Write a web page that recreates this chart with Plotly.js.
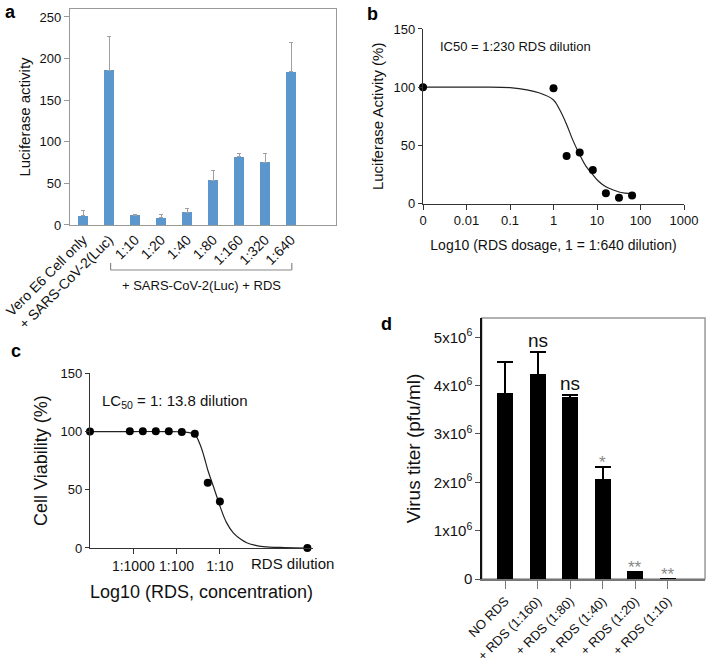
<!DOCTYPE html>
<html>
<head>
<meta charset="utf-8">
<script src="https://cdn.plot.ly/plotly-3.0.1.min.js"></script>
<style>html,body{margin:0;padding:0;background:#fff;}#chart{width:708px;height:660px;}</style>
</head>
<body>
<div id="chart"></div>
<script>
// ---------- Panel a ----------
const catsA = ['Vero E6 Cell only', '+ SARS-CoV-2(Luc)', '1:10', '1:20', '1:40', '1:80', '1:160', '1:320', '1:640'];
const lucA = [11, 186, 12, 9, 15.5, 54, 82, 75.5, 184];
const errA = [6, 40, 0.5, 4, 4, 12, 4, 10, 35];
const yTicksA = [0, 50, 100, 150, 200, 250];

// ---------- Panel b ----------
const doseB = [0.001, 1, 2, 4, 8, 16, 32, 64];
const actB = [100, 99, 41, 44, 29, 9, 5, 7];
const fitDoseB = [0.001, 0.01, 0.1, 0.48, 1, 1.37, 2, 2.75, 4, 5.6, 8, 11, 16, 23, 32, 45, 64];
const fitActB = [100, 100, 99.6, 95, 89, 81, 68, 55, 42, 32, 25, 19, 14.5, 12, 10, 9, 8.4];
const xTickValsB = [0.001, 0.01, 0.1, 1, 10, 100, 1000];
const xTickTextB = ['0', '0.01', '0.1', '1', '10', '100', '1000'];
const yTicksB = [0, 50, 100, 150];

// ---------- Panel c ----------
const logConcC = [-4, -3.08, -2.78, -2.48, -2.18, -1.88, -1.58, -1.28, -1.0, 1.02];
const viabC = [100, 100.3, 100.3, 100.3, 100.2, 99.5, 98, 56, 40, 0];
const fitLogC = [-4, -3, -2.2, -1.9, -1.75, -1.58, -1.46, -1.37, -1.28, -1.17, -1.07, -1.0, -0.85, -0.69, -0.5, -0.38, -0.2, 0, 0.5, 1.02];
const fitViabC = [100, 100, 100, 99.8, 99.3, 97.5, 89, 79, 67, 55, 44, 36, 22, 13, 7, 4.5, 2.5, 1.2, 0.4, 0];
const xTickValsC = [-3, -2, -1];
const xTickTextC = ['1:1000', '1:100', '1:10'];
const yTicksC = [0, 50, 100, 150];

// ---------- Panel d ----------
const catsD = ['NO RDS', '+ RDS (1:160)', '+ RDS (1:80)', '+ RDS (1:40)', '+ RDS (1:20)', '+ RDS (1:10)'];
const titerD = [3.83e6, 4.22e6, 3.75e6, 2.05e6, 0.145e6, 0];
const errD = [0.65e6, 0.47e6, 0.06e6, 0.26e6, 0, 0];
const sigD = ['', 'ns', 'ns', '*', '**', '**'];
const yTickValsD = [0, 1e6, 2e6, 3e6, 4e6, 5e6];
const yTickTextD = ['0', '1x10<sup>6</sup>', '2x10<sup>6</sup>', '3x10<sup>6</sup>', '4x10<sup>6</sup>', '5x10<sup>6</sup>'];

const FONT = 'Liberation Sans, Arial, Helvetica, sans-serif';
const zeros = n => new Array(n).fill(0);

const traces = [
  {
    type: 'bar', x: catsA, y: lucA, xaxis: 'x', yaxis: 'y', width: 0.35,
    marker: {color: '#5b96cc'},
    error_y: {type: 'data', array: errA, arrayminus: zeros(errA.length), symmetric: false,
              color: '#a0a0a0', thickness: 1, width: 2}
  },
  {
    type: 'scatter', mode: 'lines', x: fitDoseB, y: fitActB, xaxis: 'x2', yaxis: 'y2',
    line: {color: '#222', width: 1.2, shape: 'spline'}, hoverinfo: 'skip'
  },
  {
    type: 'scatter', mode: 'markers', x: doseB, y: actB, xaxis: 'x2', yaxis: 'y2',
    marker: {color: '#000', size: 8}, cliponaxis: false
  },
  {
    type: 'scatter', mode: 'lines', x: fitLogC, y: fitViabC, xaxis: 'x3', yaxis: 'y3',
    line: {color: '#222', width: 1.2, shape: 'spline'}, hoverinfo: 'skip'
  },
  {
    type: 'scatter', mode: 'markers', x: logConcC, y: viabC, xaxis: 'x3', yaxis: 'y3',
    marker: {color: '#000', size: 8}, cliponaxis: false
  },
  {
    type: 'bar', x: catsD, y: titerD, xaxis: 'x4', yaxis: 'y4', width: 0.49,
    marker: {color: '#000'},
    error_y: {type: 'data', array: errD, arrayminus: zeros(errD.length), symmetric: false,
              color: '#000', thickness: 2, width: 8}
  }
];

const annotations = [
  {text: '<b>a</b>', xref: 'paper', yref: 'paper', x: 0.004, y: 1.0, xanchor: 'left', yanchor: 'top', showarrow: false, font: {size: 18, family: FONT, color: '#000'}},
  {text: '<b>b</b>', xref: 'paper', yref: 'paper', x: 0.516, y: 0.997, xanchor: 'left', yanchor: 'top', showarrow: false, font: {size: 18, family: FONT, color: '#000'}},
  {text: '<b>c</b>', xref: 'paper', yref: 'paper', x: 0.013, y: 0.487, xanchor: 'left', yanchor: 'top', showarrow: false, font: {size: 18, family: FONT, color: '#000'}},
  {text: '<b>d</b>', xref: 'paper', yref: 'paper', x: 0.535, y: 0.527, xanchor: 'left', yanchor: 'top', showarrow: false, font: {size: 18, family: FONT, color: '#000'}},
  {text: 'IC50 = 1:230 RDS dilution', xref: 'paper', yref: 'paper', x: 0.618, y: 0.9303, xanchor: 'left', yanchor: 'middle', showarrow: false, font: {size: 13, family: FONT, color: '#111'}},
  {text: 'LC<sub>50</sub> = 1: 13.8 dilution', xref: 'paper', yref: 'paper', x: 0.1412, y: 0.3924, xanchor: 'left', yanchor: 'middle', showarrow: false, font: {size: 15, family: FONT, color: '#111'}},
  {text: 'RDS dilution', xref: 'paper', yref: 'paper', x: 0.4138, y: 0.1455, xanchor: 'center', yanchor: 'middle', showarrow: false, font: {size: 15, family: FONT, color: '#111'}},
  {text: '+ SARS-CoV-2(Luc) + RDS', xref: 'x', yref: 'paper', x: 4.55, y: 0.568, xanchor: 'center', yanchor: 'middle', showarrow: false, font: {size: 13, family: FONT, color: '#111'}}
];
sigD.forEach((s, i) => {
  if (!s) return;
  const isStar = s.indexOf('*') >= 0;
  annotations.push({
    text: s, xref: 'x4', yref: 'y4', x: catsD[i], y: titerD[i] + errD[i],
    xanchor: 'center', yanchor: 'bottom', yshift: isStar ? -7 : -1, showarrow: false,
    font: {size: isStar ? 17 : 19, family: FONT, color: isStar ? '#888' : '#111'}
  });
});

const axCommon = {showgrid: false, zeroline: false, showline: true, ticks: 'outside', fixedrange: true};

const layout = {
  width: 708, height: 660,
  margin: {l: 0, r: 0, t: 0, b: 0},
  paper_bgcolor: '#fff', plot_bgcolor: 'rgba(0,0,0,0)',
  showlegend: false,
  font: {family: FONT, color: '#111'},
  bargap: 0,
  xaxis: Object.assign({}, axCommon, {
    domain: [0.0989, 0.4746], anchor: 'y', type: 'category', range: [-0.5, 9.73],
    ticks: '', tickangle: -45, linecolor: '#999', mirror: true, linewidth: 1.2,
    tickfont: {size: 14, family: FONT, color: '#111'}
  }),
  yaxis: Object.assign({}, axCommon, {
    domain: [0.6591, 0.98636], anchor: 'x', range: [0, 259.6], tickvals: yTicksA,
    ticklen: 5, tickcolor: '#999', linecolor: '#999', mirror: true, linewidth: 1.2,
    tickfont: {size: 13, family: FONT, color: '#111'},
    title: {text: 'Luciferase activity', font: {size: 15, family: FONT, color: '#111'}, standoff: 5}
  }),
  xaxis2: Object.assign({}, axCommon, {
    domain: [0.5975, 0.9661], anchor: 'y2', type: 'log', range: [-3, 3],
    tickvals: xTickValsB, ticktext: xTickTextB, ticklen: 5, tickcolor: '#333', linecolor: '#333', linewidth: 1.2,
    tickfont: {size: 13, family: FONT, color: '#111'}, tickangle: 0,
    title: {text: 'Log10 (RDS dosage, 1 = 1:640 dilution)', font: {size: 14, family: FONT, color: '#111'}, standoff: 12}
  }),
  yaxis2: Object.assign({}, axCommon, {
    domain: [0.6914, 0.9561], anchor: 'x2', range: [0, 150], tickvals: yTicksB,
    ticklen: 4, tickcolor: '#333', linecolor: '#333', linewidth: 1.2,
    tickfont: {size: 13, family: FONT, color: '#111'},
    title: {text: 'Luciferase Activity (%)', font: {size: 15, family: FONT, color: '#111'}, standoff: 6}
  }),
  xaxis3: Object.assign({}, axCommon, {
    domain: [0.1271, 0.4421], anchor: 'y3', range: [-4, 1.15],
    tickvals: xTickValsC, ticktext: xTickTextC, ticklen: 5, tickcolor: '#333', linecolor: '#333', linewidth: 1.2,
    tickfont: {size: 14, family: FONT, color: '#111'}, tickangle: 0,
    title: {text: 'Log10 (RDS, concentration)', font: {size: 18, family: FONT, color: '#111'}, standoff: 12}
  }),
  yaxis3: Object.assign({}, axCommon, {
    domain: [0.1697, 0.4344], anchor: 'x3', range: [0, 150], tickvals: yTicksC,
    ticklen: 4, tickcolor: '#333', linecolor: '#333', linewidth: 1.2,
    tickfont: {size: 13, family: FONT, color: '#111'},
    title: {text: 'Cell Viability (%)', font: {size: 18, family: FONT, color: '#111'}, standoff: 8}
  }),
  xaxis4: Object.assign({}, axCommon, {
    domain: [0.6804, 0.9958], anchor: 'y4', type: 'category', range: [-0.72, 6.15],
    tickangle: -45, ticklen: 8, tickcolor: '#777', linecolor: '#777', linewidth: 1.5,
    tickfont: {size: 13, family: FONT, color: '#111'}
  }),
  yaxis4: Object.assign({}, axCommon, {
    domain: [0.1227, 0.5182], anchor: 'x4', range: [0, 5.4e6],
    tickvals: yTickValsD, ticktext: yTickTextD, ticklen: 5, tickcolor: '#555', linecolor: '#111', linewidth: 1.5,
    tickfont: {size: 15, family: FONT, color: '#111'},
    title: {text: 'Virus titer (pfu/ml)', font: {size: 19, family: FONT, color: '#111'}, standoff: 8}
  }),
  shapes: [
    {type: 'rect', xref: 'x4 domain', yref: 'y4 domain', x0: 0, x1: 1, y0: 0, y1: 1, line: {color: '#999', width: 1.5}, layer: 'below'},
    {type: 'line', xref: 'x', yref: 'paper', x0: 1.06, x1: 8.03, y0: 0.5909, y1: 0.5909, line: {color: '#888', width: 1.2}},
    {type: 'line', xref: 'x', yref: 'paper', x0: 1.06, x1: 1.06, y0: 0.5909, y1: 0.6015, line: {color: '#888', width: 1.2}},
    {type: 'line', xref: 'x', yref: 'paper', x0: 8.03, x1: 8.03, y0: 0.5909, y1: 0.6015, line: {color: '#888', width: 1.2}}
  ],
  annotations: annotations
};

Plotly.newPlot('chart', traces, layout, {displayModeBar: false, staticPlot: true});
</script>
</body>
</html>
